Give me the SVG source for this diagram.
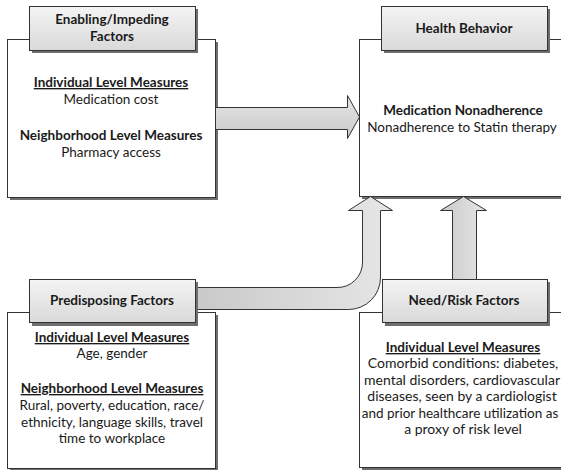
<svg xmlns="http://www.w3.org/2000/svg" width="561" height="470" viewBox="0 0 561 470">
<defs>
<linearGradient id="tabG" x1="0" y1="0" x2="0" y2="1"><stop offset="0" stop-color="#f4f4f4"/><stop offset="1" stop-color="#d9d9d9"/></linearGradient>
<linearGradient id="arrH" x1="0" y1="0" x2="0" y2="1"><stop offset="0" stop-color="#e6e6e6"/><stop offset="1" stop-color="#c9c9c9"/></linearGradient>
<linearGradient id="arrV" x1="0" y1="0" x2="1" y2="0"><stop offset="0" stop-color="#c9c9c9"/><stop offset="1" stop-color="#e6e6e6"/></linearGradient>
<style>
.box{fill:#fff;stroke:#333;stroke-width:1}
.sh{fill:#6e6e6e}
.tab{fill:url(#tabG);stroke:#333;stroke-width:1}
.arr{stroke:#333;stroke-width:1}
text{font-family:Lato,"Liberation Sans",sans-serif;font-size:13.5px;fill:#1a1a1a;text-anchor:middle}
.b{font-weight:bold}
.u{text-decoration:underline}
.l{font-size:14px}
</style>
</defs>
<g id="enabling">
<rect class="sh" x="10" y="42" width="208" height="158"/>
<rect class="box" x="7.5" y="39.5" width="208" height="158"/>
</g>
<g id="health">
<rect class="sh" x="362" y="42" width="210" height="157"/>
<rect class="box" x="359.5" y="39.5" width="210" height="157"/>
</g>
<g id="predisposing">
<rect class="sh" x="10" y="315" width="208" height="157"/>
<rect class="box" x="7.5" y="312.5" width="208" height="156"/>
</g>
<g id="need">
<rect class="sh" x="362" y="315" width="210" height="157"/>
<rect class="box" x="359.5" y="312.5" width="210" height="155"/>
</g>
<g id="connectors">
<path class="arr" fill="url(#arrH)" d="M215.5,107.5 H347.5 V95.5 L359.5,117 L347.5,138.5 V129.5 H215.5 Z"/>
<path class="arr" fill="url(#arrV)" d="M195.5,287.5 H337 A25,25 0 0 0 362.5,262 V210.5 H348.5 L370.5,196.5 L392.5,210.5 H380.5 V277 A32,32 0 0 1 348.5,309.5 H195.5 Z"/>
<path class="arr" fill="url(#arrV)" d="M452.5,280 V210.5 H440.5 L463.5,196.5 L486.5,210.5 H476.5 V280 Z"/>
</g>
<g id="enabling-tab">
<rect class="sh" x="32" y="9" width="166" height="44"/>
<rect class="tab" x="29.5" y="6.5" width="166" height="44"/>
<text class="b" x="112" y="24">Enabling/Impeding</text>
<text class="b" x="112" y="41">Factors</text>
<text class="b u" x="111" y="87">Individual Level Measures</text>
<text x="111" y="104">Medication cost</text>
<text class="b" x="111" y="140">Neighborhood Level Measures</text>
<text x="111" y="157">Pharmacy access</text>
</g>
<g id="health-tab">
<rect class="sh" x="384" y="9" width="166" height="44"/>
<rect class="tab" x="381.5" y="6.5" width="166" height="44"/>
<text class="b" x="464" y="33">Health Behavior</text>
<text class="b" x="463" y="115">Medication Nonadherence</text>
<text x="462" y="132">Nonadherence to Statin therapy</text>
</g>
<g id="predisposing-tab">
<rect class="sh" x="32" y="282" width="166" height="44"/>
<rect class="tab" x="29.5" y="279.5" width="166" height="43"/>
<text class="b" x="112" y="305">Predisposing Factors</text>
<text class="b u" x="112" y="342">Individual Level Measures</text>
<text x="112" y="358">Age, gender</text>
<text class="b u" x="112" y="393">Neighborhood Level Measures</text>
<text x="112" y="410">Rural, poverty, education, race/</text>
<text x="112" y="427">ethnicity, language skills, travel</text>
<text x="112" y="443">time to workplace</text>
</g>
<g id="need-tab">
<rect class="sh" x="385" y="282" width="165" height="44"/>
<rect class="tab" x="382.5" y="279.5" width="165" height="43"/>
<text class="b" x="464" y="305">Need/Risk Factors</text>
<text class="b u" x="463" y="352">Individual Level Measures</text>
<text class="l" x="463" y="368">Comorbid conditions: diabetes,</text>
<text class="l" x="462" y="385">mental disorders, cardiovascular</text>
<text class="l" x="462" y="401">diseases, seen by a cardiologist</text>
<text x="460" y="418">and prior healthcare utilization as</text>
<text class="l" x="463" y="434">a proxy of risk level</text>
</g>
</svg>
